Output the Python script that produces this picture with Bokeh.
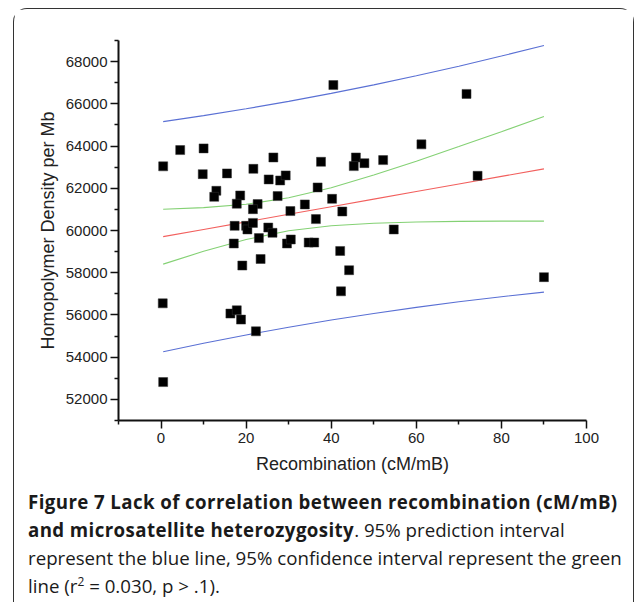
from bokeh.plotting import figure
from bokeh.models import Div, FixedTicker, Range1d
from bokeh.layouts import column
from bokeh.embed import file_html
from bokeh.resources import INLINE

# ---- data ----
recombination = [0.5, 4.5, 10.0, 9.8, 15.5, 13.0, 12.5, 21.7, 26.4, 25.3, 28.0, 29.3,
                 18.6, 17.8, 22.7, 21.6, 27.4, 30.4, 17.3, 20.0, 20.3, 21.6, 25.2, 26.2,
                 23.0, 17.1, 29.6, 30.5, 19.1, 23.4, 0.4, 16.3, 17.8, 18.8, 22.3, 0.5,
                 40.5, 37.6, 45.8, 45.3, 47.8, 52.2, 61.2, 36.8, 40.2, 33.8, 42.6, 36.4,
                 54.7, 34.7, 36.0, 42.1, 44.2, 42.3, 71.8, 74.4, 90.0]
density = [63040, 63810, 63890, 62670, 62705, 61880, 61595, 62920, 63460, 62420, 62370, 62610,
           61660, 61270, 61250, 61010, 61630, 60920, 60220, 60220, 60050, 60360, 60140, 59890,
           59640, 59385, 59385, 59575, 58340, 58650, 56550, 56065, 56220, 55780, 55225, 52820,
           66890, 63255, 63460, 63050, 63190, 63335, 64080, 62040, 61500, 61235, 60900, 60540,
           60050, 59430, 59430, 59030, 58120, 57120, 66470, 62590, 57790]

line_x = [0.5, 10, 20, 30, 40, 50, 60, 70, 80, 90]
fit_line = [59708, 60049, 60408, 60767, 61126, 61485, 61844, 62203, 62562, 62921]
conf_upper = [61008, 61083, 61242, 61548, 62026, 62625, 63285, 63974, 64681, 65396]
conf_lower = [58408, 59015, 59574, 59986, 60226, 60345, 60403, 60432, 60443, 60446]
pred_upper = [65157, 65441, 65765, 66116, 66494, 66898, 67328, 67783, 68262, 68763]
pred_lower = [54259, 54657, 55051, 55418, 55758, 56072, 56360, 56623, 56862, 57079]

x_ticks = [0, 20, 40, 60, 80, 100]
x_minor = [-10, 10, 30, 50, 70, 90]
y_ticks = [52000, 54000, 56000, 58000, 60000, 62000, 64000, 66000, 68000]
y_minor = [51000, 53000, 55000, 57000, 59000, 61000, 63000, 65000, 67000, 69000]

p = figure(width=619, height=472,
           x_range=Range1d(-10, 100), y_range=Range1d(51000, 69000),
           output_backend="svg", toolbar_location=None,
           min_border_left=104, min_border_right=47,
           min_border_top=31, min_border_bottom=61)
p.outline_line_color = None
p.xgrid.visible = False
p.ygrid.visible = False
p.background_fill_color = "white"
p.border_fill_color = "white"

p.line(line_x, pred_upper, line_color="#5a70d4", line_width=1.1)
p.line(line_x, pred_lower, line_color="#5a70d4", line_width=1.1)
p.line(line_x, conf_upper, line_color="#84d174", line_width=1.1)
p.line(line_x, conf_lower, line_color="#84d174", line_width=1.1)
p.line(line_x, fit_line, line_color="#f2605e", line_width=1.1)
p.scatter(recombination, density, marker="square", size=9,
          fill_color="black", line_color="#333333", line_width=0.5)

for ax in (p.xaxis[0], p.yaxis[0]):
    ax.axis_line_width = 2
    ax.axis_line_color = "#111111"
    ax.major_tick_line_color = "#111111"
    ax.minor_tick_line_color = "#111111"
    ax.major_tick_line_width = 1.5
    ax.minor_tick_line_width = 1.5
    ax.major_tick_in = 0
    ax.major_tick_out = 8
    ax.minor_tick_in = 0
    ax.minor_tick_out = 4
    ax.major_label_text_font = "Liberation Sans"
    ax.major_label_text_font_size = "15px"
    ax.major_label_text_color = "#222222"
    ax.axis_label_text_font = "Liberation Sans"
    ax.axis_label_text_font_size = "18px"
    ax.axis_label_text_font_style = "normal"
    ax.axis_label_text_color = "#222222"

p.xaxis.ticker = FixedTicker(ticks=x_ticks, minor_ticks=x_minor)
p.yaxis.ticker = FixedTicker(ticks=y_ticks, minor_ticks=y_minor)
p.xaxis.axis_label = "Recombination (cM/mB)"
p.yaxis.axis_label = "Homopolymer Density per Mb"
p.xaxis.major_label_standoff = 4
p.yaxis.major_label_standoff = 3
p.xaxis.axis_label_standoff = 8
p.yaxis.axis_label_standoff = 5

caption_html = (
    "<b style='letter-spacing:0.4px'>Figure 7 Lack of correlation between recombination (cM/mB)<br>"
    "and microsatellite heterozygosity</b>. 95% prediction interval<br>"
    "represent the blue line, 95% confidence interval represent the green<br>"
    "line (r<sup style='font-size:12px;line-height:0'>2</sup> = 0.030, p &gt; .1)."
)
cap = Div(text=caption_html, width=619, height=118,
          styles={"font-family": "'Open Sans'", "font-size": "18.7px",
                  "line-height": "28px", "color": "#1a1a1a",
                  "white-space": "nowrap", "padding-left": "9px",
                  "padding-top": "2px", "box-sizing": "border-box"})

layout = column(p, cap, width=621, height=600, spacing=0,
                margin=(8, 0, 0, 13),
                styles={"border-left": "1.5px solid #333",
                        "border-top": "1.5px solid #333",
                        "border-right": "1.5px solid #333",
                        "border-top-left-radius": "14px",
                        "border-top-right-radius": "14px",
                        "box-sizing": "border-box",
                        "background": "white"})

open("out.html", "w").write(file_html(layout, INLINE))
